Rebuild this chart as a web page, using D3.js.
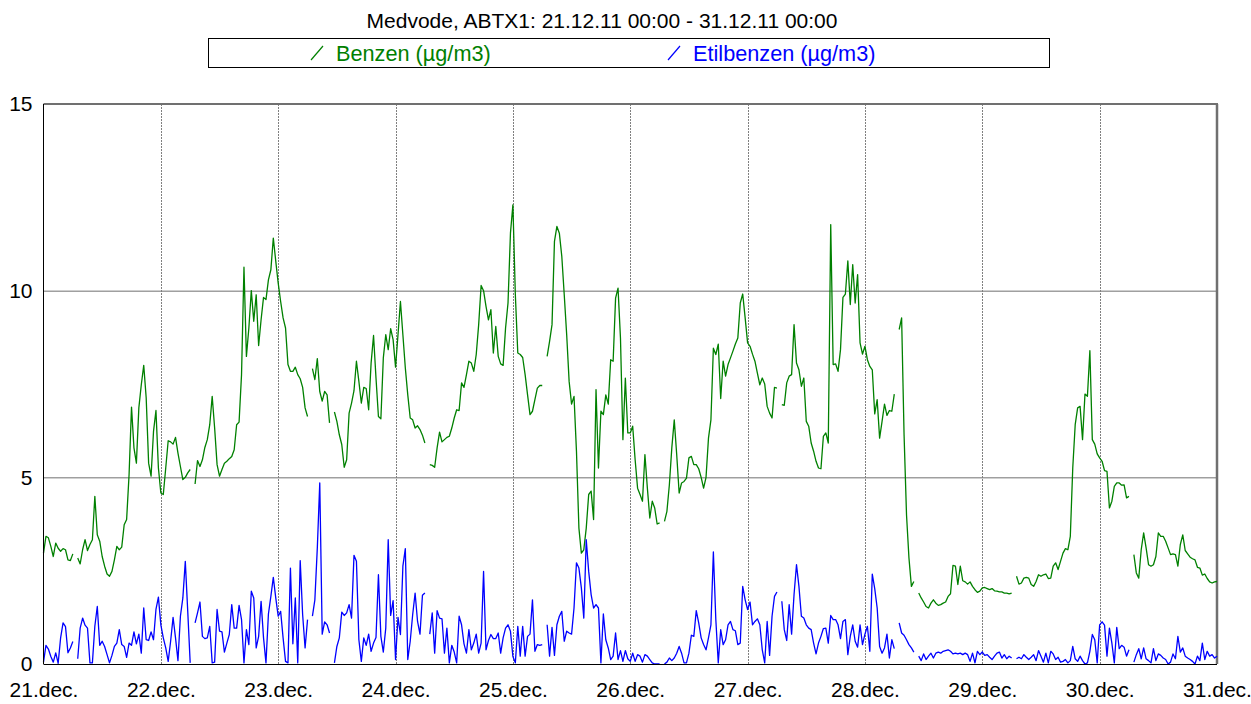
<!DOCTYPE html>
<html>
<head>
<meta charset="utf-8">
<script src="https://cdn.jsdelivr.net/npm/d3@7"></script>
<style>
  body { margin: 0; background: #fff; }
  text { font-family: Arial, "Liberation Sans", sans-serif; }
</style>
</head>
<body>
<div id="chart"></div>
<script>
// chart texts
const title = "Medvode, ABTX1: 21.12.11 00:00 - 31.12.11 00:00";
const seriesNames = ["Benzen (µg/m3)", "Etilbenzen (µg/m3)"];
const seriesColors = ["#008000", "#0000ff"];
const dayLabels = ["21.dec.", "22.dec.", "23.dec.", "24.dec.", "25.dec.", "26.dec.",
                   "27.dec.", "28.dec.", "29.dec.", "30.dec.", "31.dec."];
const yTicks = [0, 5, 10, 15];

// half-hourly values from 21.12.11 00:00, null = missing
const benzen = [
  // 21.dec
  2.97,3.42,3.38,3.15,2.88,3.24,3.1,3.02,3.09,3.06,2.79,2.77,2.95,null,2.84,2.68,3.06,3.33,3.04,3.2,3.33,4.49,3.46,3.29,
  2.88,2.62,2.41,2.35,2.48,2.79,3.15,3.06,3.13,3.73,3.87,5.07,6.88,5.79,5.38,6.86,7.48,8.0,7.13,5.38,5.03,6.23,6.79,5.25,
  // 22.dec
  4.58,4.54,5.25,5.98,5.95,5.89,6.07,5.65,5.29,4.94,5.0,5.12,5.21,null,4.82,5.45,5.29,5.47,5.8,6.01,6.41,7.17,6.32,5.34,
  5.03,5.21,5.38,5.43,5.5,5.56,5.74,6.41,6.48,7.75,10.63,8.24,9.0,10.0,9.18,9.89,8.53,9.22,9.82,9.76,10.29,10.56,11.41,10.79,
  // 23.dec
  10.2,9.71,9.27,9.0,8.02,7.84,7.84,7.95,7.75,7.64,7.41,6.86,6.63,null,7.91,7.62,8.18,7.3,7.04,7.3,7.21,6.46,null,6.75,
  6.5,6.14,5.88,5.27,5.47,6.72,6.99,7.32,8.11,7.57,6.99,7.41,7.38,6.81,8.06,8.8,7.66,6.63,6.57,8.2,8.82,8.42,8.98,8.69,
  // 24.dec
  7.95,8.82,9.71,8.82,7.93,7.21,6.59,6.54,6.32,6.38,6.28,6.13,5.92,null,5.34,5.32,5.27,5.79,6.21,5.95,6.01,6.07,6.1,6.32,
  6.59,6.81,6.79,7.53,7.41,7.75,8.11,8.06,7.84,8.29,9.09,10.14,10.0,9.58,9.22,9.49,8.33,9.04,8.24,8.04,8.0,9.0,9.67,11.54,
  // 25.dec
  12.3,9.89,8.33,8.29,8.21,7.75,7.21,6.68,6.77,7.08,7.39,7.46,7.46,null,8.24,8.64,9.09,11.32,11.72,11.54,10.92,9.89,8.82,7.57,
  6.96,7.17,5.7,3.64,2.97,3.06,3.64,4.54,4.63,3.87,7.35,5.25,6.77,6.68,7.21,6.96,8.15,8.11,9.8,10.07,8.73,6.01,7.66,6.19,
  // 26.dec
  6.19,6.37,5.47,4.71,4.54,4.36,5.61,4.71,3.91,4.36,4.18,3.75,3.78,null,3.82,4.09,4.8,5.79,6.54,5.61,4.58,4.85,4.89,4.98,
  5.52,5.56,5.34,5.34,5.23,5.0,4.71,5.0,6.05,6.54,8.46,8.29,8.57,7.11,8.11,7.71,8.02,8.2,8.38,8.57,8.73,9.67,9.91,9.27,
  // 27.dec
  8.6,8.51,8.3,8.11,7.79,7.48,7.66,7.5,6.9,6.72,6.59,7.41,7.39,null,6.95,6.93,7.53,7.71,7.75,9.09,8.06,7.88,7.44,7.66,
  6.5,6.37,5.92,5.7,5.43,5.25,5.23,6.1,6.19,5.92,11.77,8.02,8.04,7.84,8.42,9.82,9.91,10.8,9.63,10.7,9.67,10.43,8.6,8.3,
  // 28.dec
  8.51,8.15,7.97,7.88,6.7,7.08,6.05,6.5,6.96,6.66,6.79,6.77,7.23,null,8.96,9.27,6.14,4.0,2.84,2.08,2.21,null,1.9,1.77,
  1.66,1.54,1.5,1.63,1.72,1.63,1.57,1.59,1.63,1.66,1.81,1.88,2.64,2.62,2.13,2.62,2.23,2.2,2.14,2.2,2.08,1.99,1.92,1.95,
  // 29.dec
  2.04,2.05,2.02,1.99,2.02,1.96,1.95,1.93,1.93,1.9,1.9,1.88,1.9,null,2.35,2.14,2.17,2.3,2.32,2.3,2.13,2.08,2.21,2.39,
  2.35,2.39,2.41,2.29,2.3,2.62,2.71,2.53,2.75,2.97,3.09,3.06,3.42,5.25,6.41,6.86,6.9,6.01,7.23,7.17,8.39,6.01,5.89,5.63,
  // 30.dec
  5.52,5.43,5.18,5.16,4.18,4.36,4.76,4.85,4.85,4.79,4.8,4.45,4.49,null,2.93,2.44,2.3,3.06,3.51,3.11,2.66,2.62,2.66,2.88,
  3.51,3.42,3.42,3.29,3.11,2.93,2.95,2.93,2.62,3.2,3.46,3.04,2.95,2.86,2.82,2.79,2.59,2.57,2.38,2.41,2.29,2.2,2.17,2.2,
  // 31.dec 00:00
  2.21
];

const etilbenzen = [
  // 21.dec
  0.05,0.5,0.4,0.2,0.05,0.3,0.02,0.7,1.1,1.0,0.3,0.43,0.6,null,0.14,0.96,1.23,1.04,0.96,0.03,0.03,1.01,1.54,0.5,
  0.61,0.47,0.25,0.03,0.23,0.47,0.56,0.92,0.52,0.47,0.18,0.56,0.5,0.86,0.54,0.8,0.29,1.5,0.65,0.63,0.86,0.65,1.46,1.79,
  // 22.dec
  1.05,0.7,0.43,0.07,0.61,1.25,0.7,0.09,1.28,1.77,2.75,1.41,0.03,null,1.1,1.37,1.66,0.74,0.68,0.7,1.01,0.03,0.05,1.46,
  0.88,0.86,0.32,0.56,0.79,1.59,0.96,0.96,1.57,1.19,0.03,0.92,0.52,1.95,1.77,0.43,0.74,1.68,0.7,0.03,1.34,1.81,2.32,1.77,
  // 23.dec
  1.28,1.41,0.7,0.07,0.03,2.57,0.54,1.77,0.03,2.77,1.32,0.43,1.19,null,1.28,1.72,3.11,4.85,0.8,1.13,1.05,0.83,null,0.03,
  0.47,0.7,1.39,1.3,1.37,1.59,1.23,2.91,2.75,0.65,0.07,0.7,0.5,0.8,0.34,0.56,0.71,2.39,0.74,0.32,0.96,3.33,1.3,1.7,
  // 24.dec
  0.12,1.25,0.79,2.62,3.09,0.12,0.61,1.32,1.9,1.14,0.8,1.84,1.9,null,0.8,1.37,0.29,1.43,1.23,1.21,0.29,0.96,0.03,0.5,
  0.32,0.03,1.28,1.05,0.54,0.29,0.92,0.38,0.56,0.8,0.29,0.56,2.48,0.38,0.63,0.79,0.68,0.68,0.83,0.29,0.7,0.96,1.05,0.88,
  // 25.dec
  0.2,0.03,1.01,0.21,1.01,0.21,0.74,0.8,1.72,0.34,0.52,0.5,0.52,null,1.05,0.21,0.98,0.23,1.05,1.28,1.41,0.61,0.88,0.83,
  0.8,1.5,2.71,2.57,2.04,1.23,3.33,2.48,1.86,1.5,1.59,1.5,0.03,1.34,0.65,0.43,0.12,0.21,0.83,0.12,0.36,0.07,0.36,0.14,
  // 26.dec
  0.07,0.29,0.07,0.25,0.21,0.05,0.25,0.21,0.12,0.03,0,0,0,null,0,0.05,0.16,0.09,0.16,0.29,0.47,0.29,0.03,0.03,
  0.29,0.77,0.74,1.43,1.1,0.7,0.52,0.38,0.7,1.05,3.0,1.19,0.03,0.92,0.52,0.65,1.05,1.14,0.92,0.89,0.52,0.56,2.08,1.72,
  // 27.dec
  1.46,1.66,1.05,1.14,1.21,1.05,0.38,0.03,1.14,0.23,1.28,1.81,1.93,null,1.68,0.92,0.63,1.59,0.8,1.86,2.66,2.08,1.28,1.23,
  1.05,0.96,0.92,0.56,0.27,0.56,0.74,0.95,0.96,0.56,1.3,1.19,1.19,1.05,0.68,1.14,1.19,0.25,0.74,1.05,0.61,0.45,1.05,0.52,
  // 28.dec
  0.8,1.01,0.34,2.41,2.02,1.5,0.47,0.29,0.43,0.8,0.16,0.65,0.41,null,1.1,0.83,0.77,0.65,0.52,0.43,0.32,null,0.21,0.09,
  0.27,0.12,0.21,0.29,0.16,0.29,0.32,0.29,0.34,0.36,0.38,0.34,0.27,0.29,0.27,0.29,0.25,0.29,0.25,0.07,0.29,0.03,0.34,0.25,
  // 29.dec
  0.32,0.23,0.25,0.18,0.12,0.21,0.29,0.32,0.16,0.25,0.14,0.21,0.16,null,0.14,0.18,0.14,0.25,0.18,0.12,0.18,0.25,0.09,0.36,
  0.21,0.05,0.29,0.03,0.34,0.27,0.12,0.18,0.05,0.07,0.12,0.03,0.09,0.47,0.14,0.07,0.21,0.09,0,0.03,0.34,0.79,0.65,0.03,
  // 30.dec
  1.05,1.13,1.04,0.21,0.96,0.56,0.03,0.98,0.41,0.5,0.45,0.21,0.38,null,0.05,0.25,0.41,0.14,0.43,0.14,0.09,0.03,0.41,0.09,
  0.27,0.23,0.16,0.12,0,0.05,0.27,0.14,0.74,0.32,0.43,0.21,0.16,0.12,0.07,0,0.21,0.09,0.56,0.12,0.34,0.21,0.25,0.16,
  // 31.dec 00:00
  0.21
];

const width = 1251, height = 704;
const margin = {top: 104, right: 34, bottom: 40, left: 43.5};

const svg = d3.select("#chart").append("svg")
    .attr("width", width)
    .attr("height", height);

const start = Date.UTC(2011, 11, 21);
const halfHour = 30 * 60 * 1000;
const timeAt = i => new Date(start + i * halfHour);

const x = d3.scaleUtc()
    .domain([new Date(start), new Date(Date.UTC(2011, 11, 31))])
    .range([margin.left, width - margin.right]);

const y = d3.scaleLinear()
    .domain([0, 15])
    .range([height - margin.bottom, margin.top]);

const dayTicks = d3.utcDay.range(x.domain()[0], d3.utcDay.offset(x.domain()[1], 1));

// grid
svg.append("g")
  .selectAll("line")
  .data(yTicks.filter(d => d > 0 && d < 15))
  .enter().append("line")
    .attr("x1", x.range()[0]).attr("x2", x.range()[1])
    .attr("y1", d => y(d) + 0.5).attr("y2", d => y(d) + 0.5)
    .attr("stroke", "#707070").attr("stroke-width", 1);

svg.append("g")
  .selectAll("line")
  .data(dayTicks.slice(1, -1))
  .enter().append("line")
    .attr("x1", d => Math.round(x(d)) + 0.5).attr("x2", d => Math.round(x(d)) + 0.5)
    .attr("y1", y(15)).attr("y2", y(0))
    .attr("stroke", "#808080").attr("stroke-width", 1)
    .attr("stroke-dasharray", "2,1");

// frame
svg.append("line")
    .attr("x1", x.range()[0]).attr("x2", x.range()[1] + 1)
    .attr("y1", y(15)).attr("y2", y(15))
    .attr("stroke", "#707070").attr("stroke-width", 2);
svg.append("line")
    .attr("x1", x.range()[1]).attr("x2", x.range()[1])
    .attr("y1", y(15)).attr("y2", y(0))
    .attr("stroke", "#707070").attr("stroke-width", 2.5);

// series
const line = d3.line()
    .defined(d => d != null)
    .x((d, i) => x(timeAt(i)))
    .y(d => y(d));

[benzen, etilbenzen].forEach(function(values, s) {
  svg.append("path")
      .datum(values)
      .attr("fill", "none")
      .attr("stroke", seriesColors[s])
      .attr("stroke-width", 1.3)
      .attr("stroke-linejoin", "round")
      .attr("d", line);
});

svg.append("line")
    .attr("x1", x.range()[0]).attr("x2", x.range()[0])
    .attr("y1", y(15)).attr("y2", y(0))
    .attr("stroke", "#000").attr("stroke-width", 1);
svg.append("line")
    .attr("x1", x.range()[0]).attr("x2", x.range()[1])
    .attr("y1", y(0) + 0.5).attr("y2", y(0) + 0.5)
    .attr("stroke", "#000").attr("stroke-width", 1);

// axes labels
const xAxis = d3.axisBottom(x)
    .tickValues(dayTicks)
    .tickSize(0)
    .tickPadding(18)
    .tickFormat((d, i) => dayLabels[i]);

svg.append("g")
    .attr("transform", "translate(0," + y(0) + ")")
    .call(xAxis)
    .call(g => g.select(".domain").remove())
    .selectAll("text")
      .attr("font-size", "21px")
      .attr("font-family", "Arial, 'Liberation Sans', sans-serif")
      .attr("fill", "#000");

const yAxis = d3.axisLeft(y)
    .tickValues(yTicks)
    .tickSize(0)
    .tickPadding(11);

svg.append("g")
    .attr("transform", "translate(" + x.range()[0] + ",0)")
    .call(yAxis)
    .call(g => g.select(".domain").remove())
    .selectAll("text")
      .attr("font-size", "21px")
      .attr("font-family", "Arial, 'Liberation Sans', sans-serif")
      .attr("fill", "#000");

// title
svg.append("text")
    .attr("x", 602).attr("y", 28)
    .attr("text-anchor", "middle")
    .attr("font-size", "21px")
    .text(title);

// legend
svg.append("rect")
    .attr("x", 208.5).attr("y", 38.5)
    .attr("width", 841).attr("height", 29)
    .attr("fill", "none").attr("stroke", "#000");

const legendX = [311, 668];
const legend = svg.selectAll(".legend")
    .data(seriesNames)
    .enter().append("g")
    .attr("class", "legend")
    .attr("transform", (d, i) => "translate(" + legendX[i] + ",0)");

legend.append("line")
    .attr("x1", 0).attr("y1", 60)
    .attr("x2", 12).attr("y2", 46)
    .attr("stroke", (d, i) => seriesColors[i])
    .attr("stroke-width", 1.2);

legend.append("text")
    .attr("x", 25).attr("y", 61)
    .attr("font-size", "21.7px")
    .attr("fill", (d, i) => seriesColors[i])
    .text(d => d);
</script>
</body>
</html>
